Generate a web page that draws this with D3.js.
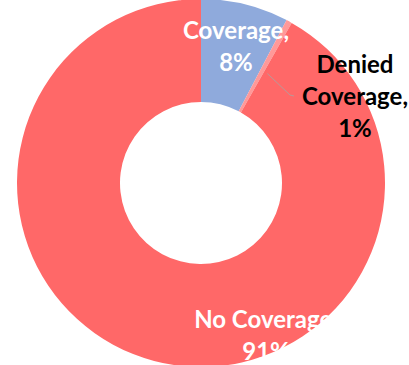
<!DOCTYPE html>
<html>
<head>
<meta charset="utf-8">
<script src="https://cdn.jsdelivr.net/npm/d3@7"></script>
<style>
  html, body { margin: 0; padding: 0; background: #fff; overflow: hidden; }
  svg { display: block; }
</style>
</head>
<body>
<svg id="chart" width="409" height="365"></svg>
<script>
// slice shares and the labels shown on the chart
const categories = ['Coverage', 'Denied Coverage', 'No Coverage'];
const shares     = [7.7, 0.5, 91.8];
const pctLabels  = ['8%', '1%', '91%'];
const colors     = ['#8FAADC', '#FF9999', '#FF6868'];

const width = 409, height = 365;
const cx = 201, cy = 183;
const outerR = 184, innerR = 81;

const svg = d3.select('#chart');
const g = svg.append('g').attr('transform', `translate(${cx},${cy})`);

const pie = d3.pie().sort(null).value(d => d.value);
const arc = d3.arc().innerRadius(innerR).outerRadius(outerR);

const data = categories.map((c, i) => ({ name: c, value: shares[i], pct: pctLabels[i], color: colors[i] }));
const arcs = pie(data);

g.selectAll('path.slice')
  .data(arcs)
  .join('path')
  .attr('class', 'slice')
  .attr('d', arc)
  .attr('fill', d => d.data.color);

// Leader line for the small slice
const small = arcs[1];
const midA = small.endAngle + 0.03;
const p0 = [Math.sin(midA) * 128, -Math.cos(midA) * 128];
g.append('polyline')
  .attr('points', [p0, [89, -88], [93, -87]].map(p => p.join(',')).join(' '))
  .attr('fill', 'none')
  .attr('stroke', '#a6a6a6')
  .attr('stroke-width', 0.8);

// Labels (positions relative to centre)
const labelPos = [
  { x: 35,  y: -144, fill: '#fff' },
  { x: 154, y: -110, fill: '#000' },
  { x: 65,  y: 145,  fill: '#fff' }
];
const lineH = 32;

arcs.forEach((a, i) => {
  const words = a.data.name.split(' ');
  let lines;
  if (i === 1) lines = [words[0], words.slice(1).join(' ') + ',', a.data.pct];
  else lines = [a.data.name + ',', a.data.pct];
  const t = g.append('text')
    .attr('text-anchor', 'middle')
    .attr('font-family', 'Lato, "Open Sans", sans-serif')
    .attr('font-weight', 'bold')
    .attr('font-size', 24)
    .attr('fill', labelPos[i].fill);
  lines.forEach((l, j) => {
    t.append('tspan')
      .attr('x', labelPos[i].x)
      .attr('y', labelPos[i].y + j * lineH)
      .text(l);
  });
});
</script>
</body>
</html>
